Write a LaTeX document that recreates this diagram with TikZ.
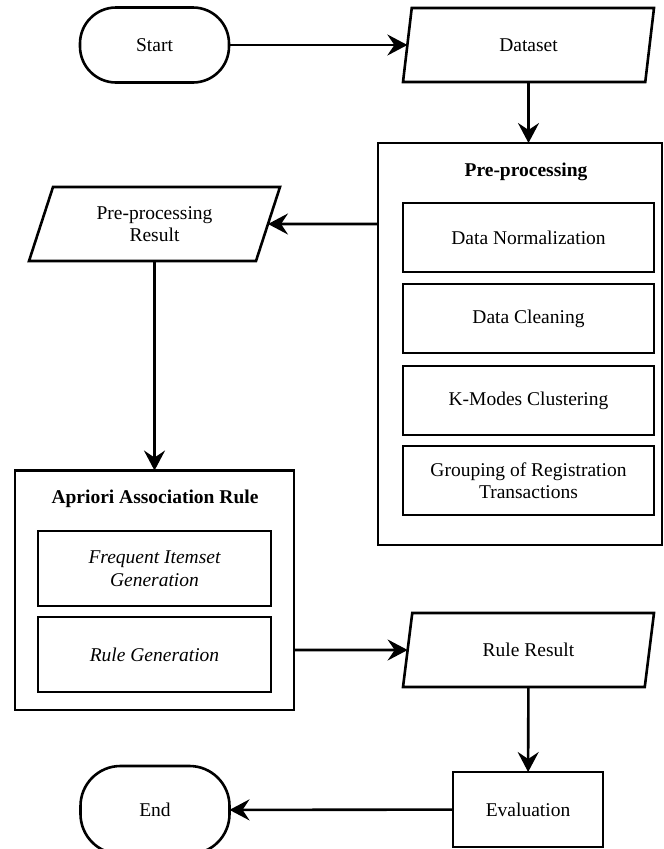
\documentclass[tikz,border=0pt]{standalone}
\usepackage{fontspec}
\setmainfont{Liberation Serif}
\usetikzlibrary{arrows.meta,shapes.geometric}
\begin{document}
\begin{tikzpicture}[x=1pt,y=-1pt,
  every node/.style={font=\fontsize{19.5}{22.5}\selectfont, align=center, inner sep=0pt, outer sep=0pt},
  ln/.style={line width=2.6pt},
  term/.style={ln, draw, rectangle, rounded corners=36pt, minimum width=149pt, minimum height=75pt},
  io/.style={ln, draw, trapezium, trapezium left angle=56, trapezium right angle=124, trapezium stretches body, minimum width=251pt, minimum height=74pt},
  stepbox/.style={ln, draw, rectangle, minimum width=251pt, minimum height=69pt},
  subbox/.style={ln, draw, rectangle, minimum width=233pt, minimum height=75pt},
  group/.style={ln, draw, rectangle},
  ttl/.style={font=\fontsize{19.5}{22.5}\selectfont\bfseries},
  arr/.style={ln, -{Stealth[length=20pt,width=21pt,inset=7pt]}}
]
\useasboundingbox (0,0) rectangle (664,849);

% top row
\node[term] (start) at (154.5,45) {Start};
\node[io] (data) at (528.5,45) {Dataset};

% pre-processing group
\node[group, minimum width=284pt, minimum height=402pt] (pre) at (520,344) {};
\node[ttl] (pretitle) at (526,172) {Pre-processing};
\node[stepbox] (norm) at (528.5,237.5) {Data Normalization};
\node[stepbox] (clean) at (528.5,318.5) {Data Cleaning};
\node[stepbox] (kmodes) at (528.5,400.5) {K-Modes Clustering};
\node[stepbox] (grp) at (528.5,480.5) {Grouping of Registration\\Transactions};

% pre-processing result
\node[io] (prr) at (154.5,224) {Pre-processing\\Result};

% apriori group
\node[group, minimum width=279pt, minimum height=239.5pt] (apr) at (154.5,590.3) {};
\node[ttl] (aprtitle) at (155,499) {Apriori Association Rule};
\node[subbox] (freq) at (154.5,568.5) {\itshape Frequent Itemset\\\itshape Generation};
\node[subbox] (rgen) at (154.5,654.5) {\itshape Rule Generation};

% rule result, evaluation, end
\node[io] (rr) at (528.5,650) {Rule Result};
\node[ln, draw, rectangle, minimum width=150pt, minimum height=75pt] (eval) at (528,809.5) {Evaluation};
\node[term, rounded corners=40pt, minimum height=88pt] (end) at (155,810) {End};

% connectors
\draw[arr] (start) -- (data);
\draw[arr] (data) -- (data |- pre.north);
\draw[arr] (pre.west |- prr) -- (prr);
\draw[arr] (prr) -- (prr |- apr.north);
\draw[arr] (apr.east |- rr) -- (rr);
\draw[arr] (rr) -- (eval);
\draw[arr] (eval) -- (end);
\end{tikzpicture}
\end{document}
